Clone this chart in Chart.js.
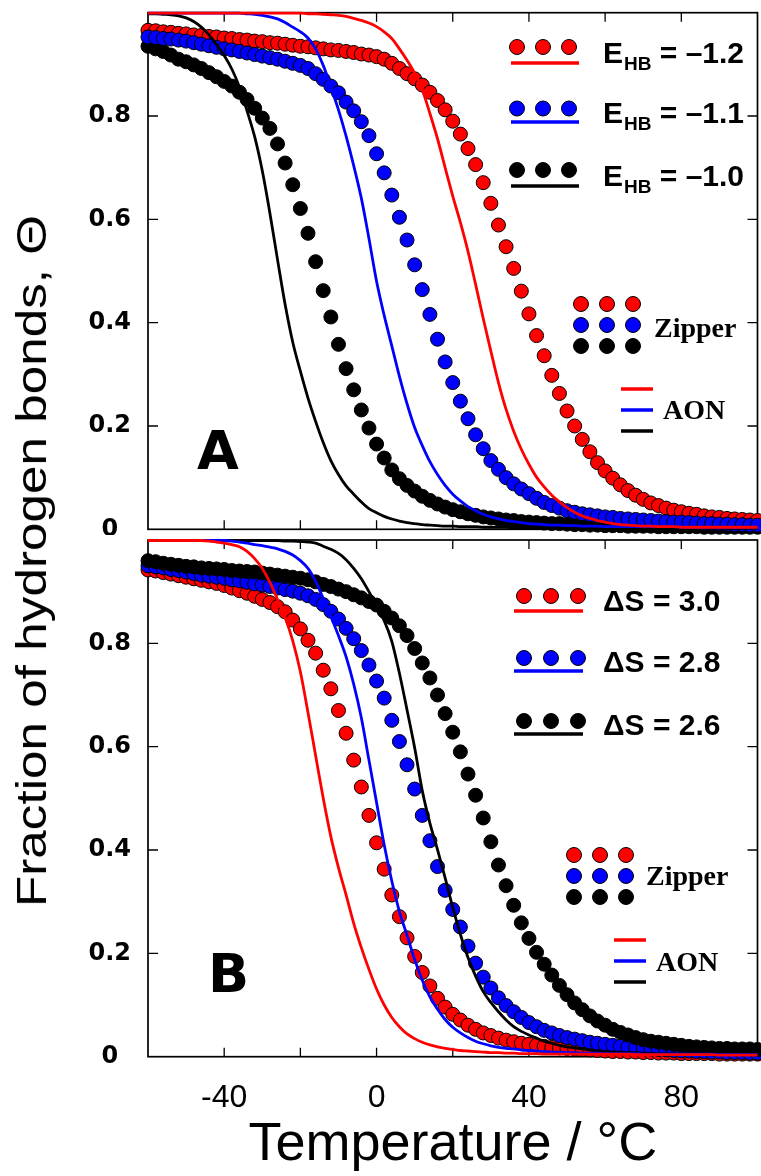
<!DOCTYPE html>
<html>
<head>
<meta charset="utf-8">
<script src="https://cdn.jsdelivr.net/npm/chart.js@4.4.1/dist/chart.umd.min.js"></script>
<style>
body{margin:0;background:#fff;width:761px;height:1176px;position:relative;overflow:hidden}
canvas{position:absolute;left:0}
#ytitle{position:absolute;left:32px;top:561px;transform:translate(-50%,-50%) rotate(-90deg) scaleX(1.22);
  font:42px "Liberation Sans",Arial,sans-serif;line-height:1;white-space:nowrap;color:#000}
</style>
</head>
<body>
<canvas id="chartA" width="761" height="535" style="top:0"></canvas>
<canvas id="chartB" width="761" height="641" style="top:535px"></canvas>
<div id="ytitle">Fraction of hydrogen bonds, Θ</div>
<script>
const temps = [-60,-58,-56,-54,-52,-50,-48,-46,-44,-42,
  -40,-38,-36,-34,-32,-30,-28,-26,-24,-22,
  -20,-18,-16,-14,-12,-10,-8,-6,-4,-2,
  0,2,4,6,8,10,12,14,16,18,
  20,22,24,26,28,30,32,34,36,38,
  40,42,44,46,48,50,52,54,56,58,
  60,62,64,66,68,70,72,74,76,78,
  80,82,84,86,88,90,92,94,96,98,
  100];

// panel A : zipper model (dots)
const zipperA12 = [0.966,0.965,0.963,0.962,0.960,0.959,0.957,0.956,0.954,0.953,
  0.951,0.950,0.948,0.947,0.945,0.944,0.942,0.941,0.939,0.937,
  0.935,0.934,0.932,0.930,0.928,0.927,0.925,0.923,0.920,0.918,
  0.915,0.910,0.902,0.892,0.882,0.872,0.860,0.846,0.830,0.812,
  0.790,0.765,0.737,0.706,0.671,0.631,0.589,0.547,0.505,0.461,
  0.417,0.375,0.336,0.298,0.263,0.229,0.200,0.174,0.150,0.129,
  0.113,0.099,0.086,0.075,0.066,0.058,0.051,0.046,0.041,0.037,
  0.034,0.031,0.029,0.026,0.024,0.023,0.021,0.020,0.019,0.018,
  0.017];
const zipperA11 = [0.953,0.952,0.950,0.949,0.947,0.945,0.942,0.939,0.936,0.933,
  0.930,0.928,0.925,0.922,0.919,0.916,0.913,0.910,0.906,0.902,
  0.898,0.892,0.882,0.871,0.858,0.845,0.827,0.810,0.789,0.762,
  0.727,0.690,0.647,0.604,0.560,0.512,0.464,0.416,0.368,0.324,
  0.284,0.248,0.214,0.183,0.156,0.133,0.116,0.100,0.088,0.078,
  0.069,0.060,0.052,0.046,0.041,0.036,0.033,0.030,0.028,0.026,
  0.024,0.023,0.021,0.020,0.019,0.018,0.017,0.016,0.015,0.014,
  0.014,0.013,0.012,0.011,0.011,0.010,0.010,0.009,0.009,0.008,
  0.008];
const zipperA10 = [0.935,0.930,0.925,0.918,0.910,0.905,0.899,0.892,0.884,0.876,
  0.867,0.858,0.846,0.832,0.815,0.796,0.776,0.746,0.709,0.667,
  0.621,0.573,0.518,0.462,0.411,0.358,0.311,0.270,0.231,0.196,
  0.165,0.138,0.115,0.098,0.085,0.074,0.064,0.056,0.049,0.043,
  0.038,0.034,0.030,0.027,0.024,0.022,0.020,0.018,0.017,0.015,
  0.014,0.013,0.012,0.011,0.011,0.010,0.009,0.009,0.008,0.008,
  0.007,0.007,0.007,0.006,0.006,0.006,0.006,0.005,0.005,0.005,
  0.005,0.005,0.005,0.004,0.004,0.004,0.004,0.004,0.004,0.004,
  0.004];

// panel A : all-or-none model (lines)
const aonA12 = [0.999,0.999,0.999,0.999,0.999,0.999,0.999,0.999,0.999,0.999,
  0.999,0.999,0.999,0.999,0.999,0.999,0.999,0.999,0.999,0.999,
  0.999,0.998,0.998,0.997,0.996,0.995,0.993,0.989,0.985,0.980,
  0.973,0.963,0.950,0.930,0.908,0.883,0.851,0.805,0.756,0.700,
  0.645,0.594,0.538,0.474,0.408,0.345,0.284,0.232,0.190,0.155,
  0.126,0.101,0.082,0.066,0.053,0.042,0.033,0.026,0.021,0.017,
  0.014,0.011,0.009,0.008,0.007,0.006,0.006,0.005,0.005,0.005,
  0.004,0.004,0.004,0.004,0.004,0.004,0.004,0.004,0.004,0.004,
  0.004];
const aonA11 = [0.999,0.999,0.999,0.999,0.999,0.999,0.999,0.999,0.999,0.999,
  0.999,0.999,0.999,0.998,0.997,0.995,0.992,0.988,0.981,0.972,
  0.963,0.951,0.930,0.898,0.856,0.812,0.761,0.704,0.641,0.563,
  0.480,0.414,0.355,0.296,0.243,0.197,0.162,0.131,0.106,0.085,
  0.068,0.055,0.044,0.036,0.029,0.024,0.020,0.017,0.015,0.013,
  0.011,0.010,0.009,0.008,0.008,0.007,0.007,0.006,0.006,0.006,
  0.005,0.005,0.005,0.005,0.005,0.005,0.005,0.005,0.005,0.005,
  0.004,0.004,0.004,0.004,0.004,0.004,0.004,0.004,0.004,0.004,
  0.004];
const aonA10 = [0.998,0.998,0.997,0.996,0.994,0.990,0.983,0.972,0.957,0.938,
  0.917,0.891,0.856,0.810,0.760,0.694,0.612,0.522,0.435,0.362,
  0.306,0.254,0.209,0.168,0.133,0.106,0.084,0.068,0.053,0.040,
  0.032,0.025,0.020,0.016,0.013,0.011,0.009,0.008,0.007,0.006,
  0.006,0.005,0.005,0.005,0.004,0.004,0.004,0.004,0.003,0.003,
  0.003,0.003,0.003,0.003,0.003,0.003,0.003,0.003,0.003,0.003,
  0.003,0.003,0.003,0.003,0.003,0.003,0.003,0.003,0.003,0.003,
  0.002,0.002,0.002,0.002,0.002,0.002,0.002,0.002,0.002,0.002,
  0.002];

// panel B : zipper model (dots)
const zipperB30 = [0.942,0.940,0.937,0.934,0.931,0.928,0.925,0.922,0.919,0.916,
  0.912,0.907,0.902,0.897,0.891,0.885,0.879,0.871,0.861,0.845,
  0.828,0.806,0.781,0.748,0.712,0.670,0.626,0.574,0.522,0.467,
  0.414,0.363,0.313,0.271,0.230,0.194,0.163,0.137,0.113,0.096,
  0.082,0.071,0.061,0.053,0.046,0.041,0.036,0.032,0.029,0.026,
  0.024,0.022,0.020,0.018,0.017,0.016,0.015,0.014,0.013,0.012,
  0.011,0.010,0.010,0.009,0.009,0.008,0.008,0.007,0.007,0.007,
  0.006,0.006,0.006,0.006,0.006,0.005,0.005,0.005,0.005,0.005,
  0.005];
const zipperB28 = [0.950,0.948,0.946,0.943,0.941,0.938,0.935,0.932,0.930,0.928,
  0.926,0.923,0.921,0.918,0.915,0.913,0.910,0.907,0.904,0.901,
  0.897,0.892,0.885,0.875,0.862,0.847,0.829,0.809,0.786,0.758,
  0.727,0.694,0.651,0.610,0.565,0.518,0.467,0.418,0.368,0.322,
  0.285,0.251,0.214,0.181,0.154,0.133,0.114,0.099,0.087,0.076,
  0.066,0.058,0.051,0.046,0.041,0.037,0.034,0.031,0.028,0.026,
  0.024,0.022,0.020,0.019,0.017,0.016,0.015,0.014,0.013,0.012,
  0.011,0.011,0.010,0.010,0.009,0.009,0.008,0.008,0.008,0.007,
  0.007];
const zipperB26 = [0.960,0.958,0.955,0.953,0.951,0.949,0.948,0.946,0.945,0.944,
  0.943,0.941,0.940,0.939,0.938,0.936,0.934,0.932,0.930,0.928,
  0.926,0.923,0.919,0.914,0.910,0.905,0.900,0.894,0.888,0.881,
  0.874,0.862,0.849,0.834,0.815,0.790,0.762,0.733,0.700,0.664,
  0.628,0.590,0.547,0.506,0.462,0.416,0.371,0.331,0.293,0.259,
  0.229,0.202,0.179,0.158,0.138,0.120,0.104,0.091,0.079,0.069,
  0.061,0.053,0.047,0.042,0.037,0.033,0.030,0.028,0.026,0.024,
  0.022,0.020,0.019,0.018,0.017,0.016,0.016,0.015,0.015,0.015,
  0.014];

// panel B : all-or-none model (lines)
const aonB30 = [0.999,0.999,0.999,0.999,0.999,0.999,0.999,0.999,0.998,0.996,
  0.994,0.991,0.987,0.978,0.964,0.945,0.918,0.885,0.850,0.805,
  0.745,0.666,0.583,0.500,0.426,0.366,0.313,0.258,0.211,0.169,
  0.131,0.100,0.076,0.058,0.044,0.035,0.028,0.023,0.019,0.016,
  0.014,0.012,0.011,0.010,0.009,0.008,0.008,0.007,0.007,0.006,
  0.006,0.006,0.005,0.005,0.005,0.005,0.005,0.005,0.005,0.005,
  0.005,0.005,0.005,0.005,0.004,0.004,0.004,0.004,0.004,0.004,
  0.004,0.004,0.004,0.004,0.004,0.003,0.003,0.003,0.003,0.003,
  0.003];
const aonB28 = [0.999,0.999,0.999,0.999,0.999,0.999,0.999,0.999,0.999,0.999,
  0.999,0.998,0.996,0.994,0.991,0.989,0.986,0.983,0.978,0.971,
  0.960,0.945,0.920,0.887,0.852,0.815,0.774,0.721,0.656,0.574,
  0.492,0.410,0.340,0.281,0.235,0.188,0.148,0.116,0.092,0.072,
  0.057,0.046,0.037,0.030,0.025,0.021,0.018,0.016,0.015,0.013,
  0.012,0.011,0.010,0.009,0.009,0.008,0.008,0.007,0.007,0.007,
  0.006,0.006,0.006,0.006,0.006,0.005,0.005,0.005,0.005,0.005,
  0.005,0.005,0.005,0.005,0.005,0.004,0.004,0.004,0.004,0.004,
  0.004];
const aonB26 = [0.999,0.999,0.999,0.999,0.999,0.999,0.999,0.999,0.999,0.999,
  0.999,0.999,0.999,0.999,0.999,0.999,0.999,0.999,0.998,0.998,
  0.997,0.996,0.994,0.988,0.982,0.974,0.962,0.945,0.925,0.900,
  0.872,0.844,0.804,0.742,0.671,0.598,0.515,0.452,0.401,0.346,
  0.289,0.237,0.192,0.156,0.126,0.105,0.087,0.071,0.058,0.049,
  0.042,0.036,0.030,0.026,0.022,0.019,0.017,0.015,0.013,0.011,
  0.010,0.009,0.009,0.008,0.008,0.007,0.007,0.006,0.006,0.006,
  0.005,0.005,0.005,0.005,0.005,0.005,0.005,0.005,0.005,0.005,
  0.005];

const xLabelValues = [-40, 0, 40, 80];
const seriesColors = ['#ff0000', '#0000ff', '#000000'];
const energyLabels = ['–1.2', '–1.1', '–1.0'];
const entropyLabels = ['ΔS = 3.0', 'ΔS = 2.8', 'ΔS = 2.6'];

function pts(ys) {
    return temps.map((t, i) => ({x: t, y: ys[i]}));
}

function buildDatasets(zips, lines, dotOrder) {
    let ds = [];
    lines.forEach((ys, i) => {
        ds.push({data: pts(ys), showLine: true, borderColor: seriesColors[i], borderWidth: 2.8,
            pointRadius: 0, cubicInterpolationMode: 'monotone', order: 0, clip: false});
    });
    zips.forEach((ys, i) => {
        ds.push({data: pts(ys), showLine: false, backgroundColor: seriesColors[i], borderColor: '#000',
            borderWidth: 1, pointRadius: 7, order: dotOrder[i], clip: false});
    });
    return ds;
}

function dot(ctx, x, y, r, color) {
    ctx.beginPath();
    ctx.arc(x, y, r, 0, Math.PI * 2);
    ctx.fillStyle = color;
    ctx.fill();
    ctx.lineWidth = 1;
    ctx.strokeStyle = '#000';
    ctx.stroke();
}

function hline(ctx, x0, x1, y, color, w) {
    ctx.beginPath();
    ctx.moveTo(x0, y);
    ctx.lineTo(x1, y);
    ctx.strokeStyle = color;
    ctx.lineWidth = w;
    ctx.stroke();
}

// frame with inward ticks on all four sides
const framePlugin = {
    id: 'frame',
    beforeDatasetsDraw(chart) {
        const {ctx, chartArea: a, scales: {x, y}} = chart;
        ctx.save();
        ctx.strokeStyle = '#000';
        ctx.lineWidth = 1.7;
        ctx.strokeRect(a.left, a.top, a.right - a.left, a.bottom - a.top);
        ctx.lineWidth = 1.3;
        ctx.beginPath();
        x.ticks.forEach(t => {
            if (t.value <= x.min || t.value >= x.max) return;
            let px = x.getPixelForValue(t.value);
            ctx.moveTo(px, a.bottom); ctx.lineTo(px, a.bottom - 9);
            ctx.moveTo(px, a.top); ctx.lineTo(px, a.top + 9);
        });
        y.ticks.forEach(t => {
            if (t.value <= y.min || t.value >= y.max - 0.001) return;
            let py = y.getPixelForValue(t.value);
            ctx.moveTo(a.left, py); ctx.lineTo(a.left + 10, py);
            ctx.moveTo(a.right, py); ctx.lineTo(a.right - 10, py);
        });
        ctx.stroke();
        ctx.restore();
    }
};

// legends and panel letter
const keyPlugin = {
    id: 'key',
    afterDraw(chart, args, o) {
        const ctx = chart.ctx;
        const off = o.offset;
        ctx.save();
        o.labels.forEach((lab, i) => {
            o.dotX.forEach(dx => dot(ctx, dx, o.dotY[i] - off, 7.5, seriesColors[i]));
            hline(ctx, o.lineX[0], o.lineX[1], o.lineY[i] - off, seriesColors[i], 3.5);
            ctx.fillStyle = '#000';
            ctx.textBaseline = 'alphabetic';
            ctx.textAlign = 'left';
            let tx = o.textX, ty = o.textY[i] - off;
            if (o.sub) {
                ctx.font = 'bold 30px "Liberation Sans", Arial, sans-serif';
                ctx.fillText('E', tx, ty);
                tx += ctx.measureText('E').width + 1;
                ctx.font = 'bold 19px "Liberation Sans", Arial, sans-serif';
                ctx.fillText('HB', tx, ty + 7);
                tx += ctx.measureText('HB').width;
                ctx.font = 'bold 30px "Liberation Sans", Arial, sans-serif';
                ctx.fillText(' = ' + lab, tx, ty);
            } else {
                ctx.font = 'bold 30px "Liberation Sans", Arial, sans-serif';
                ctx.fillText(lab, tx, ty);
            }
        });
        seriesColors.forEach((c, i) => {
            o.zipX.forEach(zx => dot(ctx, zx, o.zipY[i] - off, 7.5, c));
            hline(ctx, o.aonX[0], o.aonX[1], o.aonY[i] - off, c, 3.5);
        });
        ctx.fillStyle = '#000';
        ctx.font = 'bold 28px "Liberation Serif", "Times New Roman", serif';
        ctx.fillText('Zipper', o.zipText[0], o.zipText[1] - off);
        ctx.fillText('AON', o.aonText[0], o.aonText[1] - off);
        ctx.font = 'bold 54px "DejaVu Sans", sans-serif';
        ctx.fillText(o.letter[0], o.letter[1], o.letter[2] - off);
        ctx.restore();
    }
};

function makeChart(id, datasets, bottomAxis, key, padTop, axisH) {
    return new Chart(document.getElementById(id), {
        type: 'scatter',
        data: {datasets: datasets},
        plugins: [framePlugin, keyPlugin],
        options: {
            responsive: false,
            animation: false,
            events: [],
            layout: {padding: {top: padTop, right: 3.5, left: 0, bottom: 0}, autoPadding: false},
            plugins: {legend: {display: false}, tooltip: {enabled: false}, key: key},
            scales: {
                x: {
                    type: 'linear', min: -60, max: 100,
                    grid: {display: false, drawTicks: false}, border: {display: false},
                    ticks: {
                        display: bottomAxis, stepSize: 20, autoSkip: false, maxRotation: 0, padding: 22,
                        color: '#000', font: {family: '"Liberation Sans", Arial, sans-serif', size: 32},
                        callback: v => xLabelValues.includes(v) ? String(v) : ''
                    },
                    title: {
                        display: bottomAxis, text: 'Temperature / °C', color: '#000',
                        font: {family: '"Liberation Sans", Arial, sans-serif', size: 54, lineHeight: 1},
                        padding: {top: 0, bottom: 4}
                    },
                    afterFit: s => {
                        s.height = axisH;
                        s.paddingLeft = 0; s.paddingRight = 0; s.paddingTop = 0; s.paddingBottom = 0;
                    }
                },
                y: {
                    min: 0, max: 1,
                    grid: {display: false, drawTicks: false}, border: {display: false},
                    ticks: {
                        stepSize: 0.2, crossAlign: 'center', padding: 17, color: '#000',
                        font: {family: '"DejaVu Sans", sans-serif', size: 24, weight: 'bold'},
                        callback: v => v > 0.99 ? '' : (v === 0 ? '0' : v.toFixed(1))
                    },
                    afterFit: s => {
                        s.width = 148;
                        s.paddingLeft = 0; s.paddingRight = 0; s.paddingTop = 0; s.paddingBottom = 0;
                    }
                }
            }
        }
    });
}

let chartA = makeChart('chartA',
    buildDatasets([zipperA12, zipperA11, zipperA10], [aonA12, aonA11, aonA10], [2, 1, 3]),
    false,
    {
        offset: 0, sub: true, labels: energyLabels,
        dotX: [517, 543, 569], dotY: [47, 108.5, 170],
        lineX: [511, 579], lineY: [63, 122, 186],
        textX: 603, textY: [63, 123, 186],
        zipX: [581, 607, 633], zipY: [304, 325, 346], zipText: [654, 337],
        aonX: [621, 653], aonY: [389, 410, 431], aonText: [663, 419],
        letter: ['A', 197, 469]
    },
    12.7, 5.7);

let chartB = makeChart('chartB',
    buildDatasets([zipperB30, zipperB28, zipperB26], [aonB30, aonB28, aonB26], [3, 2, 1]),
    true,
    {
        offset: 535, sub: false, labels: entropyLabels,
        dotX: [524, 551, 578], dotY: [596, 658, 721],
        lineX: [514, 583], lineY: [611, 671, 734],
        textX: 603, textY: [611, 672, 735],
        zipX: [574, 600, 626], zipY: [855, 876, 897], zipText: [646, 885],
        aonX: [614, 646], aonY: [940, 961, 982], aonText: [656, 971],
        letter: ['B', 208, 992]
    },
    5, 119.3);
</script>
</body>
</html>
